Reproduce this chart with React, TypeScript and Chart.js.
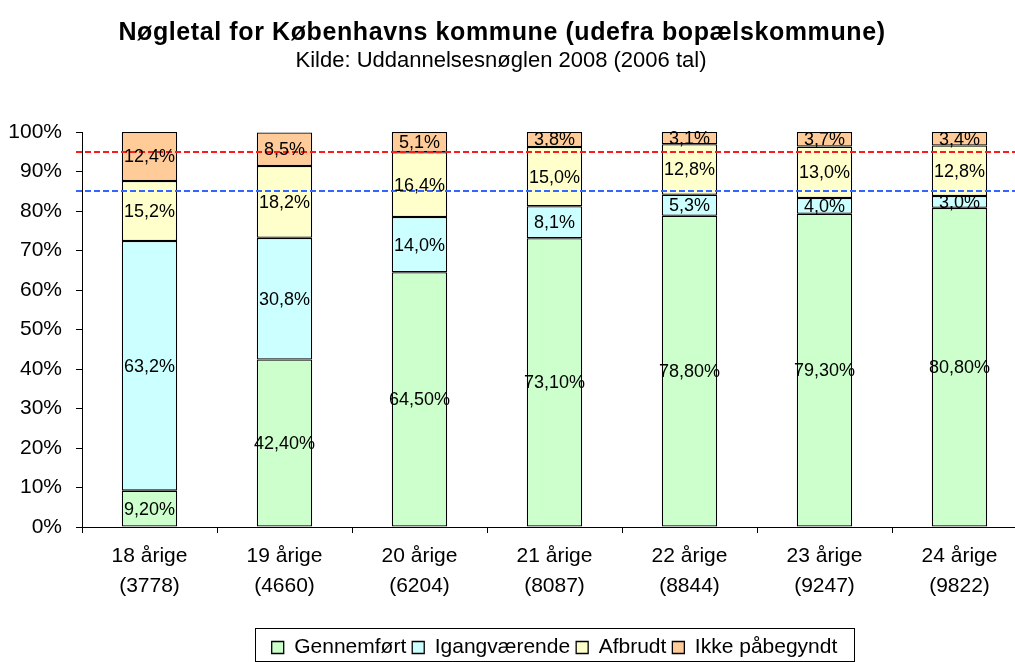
import React, { useEffect, useRef } from "react";
import { Chart, registerables } from "chart.js";

Chart.register(...registerables);

const titleText = "Nøgletal for Københavns kommune (udefra bopælskommune)";
const subtitleText = "Kilde: Uddannelsesnøglen 2008 (2006 tal)";

const categories = ["18 årige", "19 årige", "20 årige", "21 årige", "22 årige", "23 årige", "24 årige"];
const counts = ["3778", "4660", "6204", "8087", "8844", "9247", "9822"];

const gennemfoert = [9.2, 42.4, 64.5, 73.1, 78.8, 79.3, 80.8];
const igangvaerende = [63.2, 30.8, 14.0, 8.1, 5.3, 4.0, 3.0];
const afbrudt = [15.2, 18.2, 16.4, 15.0, 12.8, 13.0, 12.8];
const ikkePaabegyndt = [12.4, 8.5, 5.1, 3.8, 3.1, 3.7, 3.4];

const seriesNames = ["Gennemført", "Igangværende", "Afbrudt", "Ikke påbegyndt"];
const seriesColors = ["#CCFFCC", "#CCFFFF", "#FFFFCC", "#FFCC99"];
const seriesDecimals = [2, 1, 1, 1];

const refLineValues = [95, 85];
const refLineColors = ["#FF1A1A", "#3366FF"];

const FONT = "'Liberation Sans', Arial, sans-serif";

const titlePlugin = {
  id: "customTitle",
  afterDraw(chart: any) {
    const ctx = chart.ctx;
    ctx.save();
    ctx.fillStyle = "#000";
    ctx.textAlign = "center";
    ctx.textBaseline = "middle";
    ctx.font = `bold 25px ${FONT}`;
    (ctx as any).letterSpacing = "0.6px";
    ctx.fillText(titleText, 502, 33);
    (ctx as any).letterSpacing = "0px";
    ctx.font = `22px ${FONT}`;
    ctx.fillText(subtitleText, 501, 61);
    ctx.restore();
  },
};

const refLinesPlugin = {
  id: "refLines",
  afterDatasetsDraw(chart: any) {
    const ctx = chart.ctx;
    const y = chart.scales.y;
    const area = chart.chartArea;
    ctx.save();
    ctx.lineWidth = 2;
    ctx.setLineDash([6, 3]);
    refLineValues.forEach((v, i) => {
      const py = Math.round(y.getPixelForValue(v));
      ctx.strokeStyle = refLineColors[i];
      ctx.beginPath();
      ctx.moveTo(area.left - 6, py);
      ctx.lineTo(area.right, py);
      ctx.stroke();
    });
    ctx.restore();
  },
};

const labelsPlugin = {
  id: "segLabels",
  afterDatasetsDraw(chart: any) {
    const ctx = chart.ctx;
    ctx.save();
    ctx.fillStyle = "#000";
    ctx.textAlign = "center";
    ctx.textBaseline = "middle";
    ctx.font = `18px ${FONT}`;
    chart.data.datasets.forEach((ds: any, di: number) => {
      const meta = chart.getDatasetMeta(di);
      meta.data.forEach((el: any, i: number) => {
        const v = ds.data[i];
        const txt = v.toFixed(seriesDecimals[di]).replace(".", ",") + "%";
        const cy = (el.y + el.base) / 2;
        ctx.fillText(txt, el.x, cy + 1);
      });
    });
    ctx.restore();
  },
};

const legendBorderPlugin = {
  id: "legendBorder",
  afterDraw(chart: any) {
    const lg = chart.legend;
    if (!lg || !lg.legendHitBoxes || !lg.legendHitBoxes.length) return;
    const boxes = lg.legendHitBoxes;
    let l = Infinity, r = -Infinity, t = Infinity, b = -Infinity;
    boxes.forEach((h: any) => {
      l = Math.min(l, h.left);
      r = Math.max(r, h.left + h.width);
      t = Math.min(t, h.top);
      b = Math.max(b, h.top + h.height);
    });
    const ctx = chart.ctx;
    ctx.save();
    ctx.strokeStyle = "#000";
    ctx.lineWidth = 1;
    ctx.strokeRect(Math.round(l - 17) + 0.5, Math.round(t - 9) + 0.5, Math.round(r - l + 33), Math.round(b - t + 12));
    ctx.restore();
  },
};

export default function App() {
  const ref = useRef<HTMLCanvasElement | null>(null);

  useEffect(() => {
    if (!ref.current) return;
    const allSeries = [gennemfoert, igangvaerende, afbrudt, ikkePaabegyndt];
    const chart = new Chart(ref.current, {
      type: "bar",
      data: {
        labels: categories.map((c, i) => [c, `(${counts[i]})`]),
        datasets: allSeries.map((d, i) => ({
          label: seriesNames[i],
          data: d,
          backgroundColor: seriesColors[i],
          borderColor: "#000",
          borderWidth: 1.3,
          borderSkipped: false,
          barPercentage: 0.41,
          categoryPercentage: 1,
        })),
      },
      options: {
        responsive: false,
        animation: false,
        devicePixelRatio: 1,
        layout: { padding: { left: 0, right: 3, top: 132, bottom: -6 } },
        plugins: {
          title: { display: false },
          tooltip: { enabled: false },
          legend: {
            position: "bottom",
            fullSize: false,
            labels: {
              boxWidth: 12,
              boxHeight: 12,
              color: "#000",
              padding: 6,
              font: { family: FONT, size: 21 },
            },
          },
        },
        scales: {
          x: {
            stacked: true,
            offset: true,
            grid: {
              offset: true,
              drawOnChartArea: false,
              drawTicks: true,
              tickLength: 6,
              color: "#000",
            },
            border: { display: true, color: "#000", width: 1 },
            ticks: {
              color: "#000",
              padding: 8,
              maxRotation: 0,
              font: { family: FONT, size: 21, lineHeight: 1.43 },
            },
            afterFit(scale: any) {
              scale.height = 104;
            },
          },
          y: {
            stacked: true,
            min: 0,
            max: 100,
            grid: {
              drawOnChartArea: false,
              drawTicks: true,
              tickLength: 6,
              color: "#000",
            },
            border: { display: true, color: "#000", width: 1 },
            ticks: {
              stepSize: 10,
              color: "#000",
              padding: 14,
              font: { family: FONT, size: 21 },
              callback: (v: any) => `${v}%`,
            },
            afterFit(scale: any) {
              scale.width = 82;
            },
          },
        },
      },
      plugins: [titlePlugin, refLinesPlugin, labelsPlugin, legendBorderPlugin],
    });
    return () => chart.destroy();
  }, []);

  return (
    <div
      style={{
        position: "fixed",
        left: 0,
        top: 0,
        width: 1015,
        height: 662,
        overflow: "hidden",
        background: "#fff",
      }}
    >
      <canvas ref={ref} width={1030} height={662} style={{ display: "block" }} />
    </div>
  );
}
